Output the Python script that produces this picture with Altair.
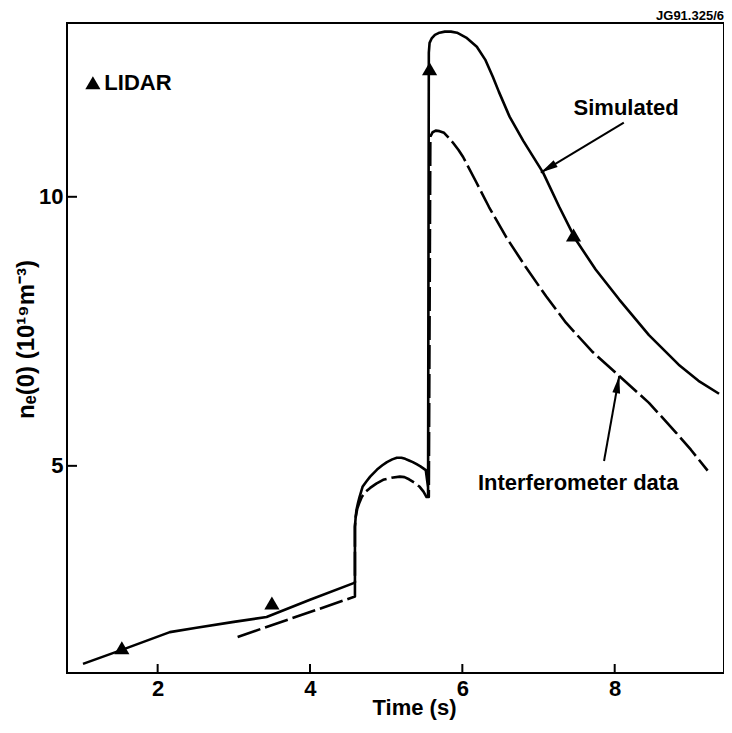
import math
import altair as alt
import pandas as pd

# ---- data ----
sim_t = [1.02, 1.53, 2.16, 2.51, 3.00, 3.43, 4.00, 4.59, 4.59, 4.60, 4.61, 4.63, 4.65,
         4.69, 4.74, 4.79, 4.88, 4.95, 5.01, 5.08, 5.14, 5.20, 5.25, 5.30, 5.35, 5.40,
         5.45, 5.52, 5.55, 5.55, 5.56, 5.57, 5.60, 5.64, 5.70, 5.77, 5.85, 5.93, 6.05,
         6.19, 6.30, 6.40, 6.48, 6.62, 6.80, 7.06, 7.27, 7.49, 7.75, 8.06, 8.45, 8.84,
         9.10, 9.37]
sim_n = [1.32, 1.58, 1.91, 1.99, 2.10, 2.19, 2.51, 2.83, 3.87, 4.05, 4.18, 4.31, 4.42,
         4.61, 4.71, 4.80, 4.93, 5.01, 5.07, 5.12, 5.15, 5.15, 5.13, 5.10, 5.07, 5.03,
         4.99, 4.92, 4.60, 4.45, 12.68, 12.86, 12.95, 13.01, 13.05, 13.07, 13.07, 13.05, 12.96,
         12.79, 12.55, 12.23, 11.95, 11.49, 11.04, 10.45, 9.82, 9.20, 8.65, 8.09, 7.43, 6.88,
         6.58, 6.34]

int_t = [3.05, 4.59, 4.59, 4.60, 4.62, 4.65, 4.68, 4.73, 4.79, 4.87, 4.96, 5.07, 5.18,
         5.24, 5.30, 5.37, 5.44, 5.49, 5.53, 5.56, 5.58, 5.61, 5.65, 5.70, 5.76, 5.82,
         5.88, 5.95, 6.01, 6.18, 6.35, 6.58, 6.83, 7.10, 7.36, 7.70, 8.06, 8.45, 8.81,
         9.00, 9.22]
int_n = [1.82, 2.57, 3.87, 4.05, 4.20, 4.32, 4.42, 4.52, 4.59, 4.67, 4.74, 4.78, 4.80,
         4.79, 4.75, 4.69, 4.61, 4.52, 4.42, 4.42, 11.12, 11.20, 11.23, 11.22, 11.19, 11.10,
         11.00, 10.87, 10.74, 10.28, 9.81, 9.24, 8.70, 8.15, 7.66, 7.13, 6.67, 6.17, 5.61,
         5.30, 4.91]

lidar_t = [1.53, 3.50, 5.57, 7.46]
lidar_n = [1.62, 2.45, 12.38, 9.29]

x_ticks = [2, 4, 6, 8]
y_ticks = [5, 10]

ann_text = ["Simulated", "Interferometer data"]
ann_t = [8.15, 7.52]
ann_n = [11.65, 4.68]

arrow_from_t = [8.12, 7.86]
arrow_from_n = [11.38, 5.09]
arrow_to_t = [7.03, 8.06]
arrow_to_n = [10.45, 6.67]

legend_t = [1.15]
legend_n = [12.12]
legend_label = ["LIDAR"]
legend_label_t = [1.30]

x_title = "Time (s)"
y_title = "nₑ(0) (10¹⁹m⁻³)"
corner_label = "JG91.325/6"

# ---- layout ----
W, H = 657, 650
XDOM = [0.81, 9.435]
YDOM = [1.15, 13.23]
FONT = "Liberation Sans"

xs = alt.Scale(domain=XDOM, nice=False, zero=False)
ys = alt.Scale(domain=YDOM, nice=False, zero=False)

px_per_x = W / (XDOM[1] - XDOM[0])
px_per_y = H / (YDOM[1] - YDOM[0])

sim_df = pd.DataFrame({"t": sim_t, "n": sim_n, "i": range(len(sim_t))})
int_df = pd.DataFrame({"t": int_t, "n": int_n, "i": range(len(int_t))})
lid_df = pd.DataFrame({"t": lidar_t, "n": lidar_n})
ann_df = pd.DataFrame({"t": ann_t, "n": ann_n, "label": ann_text})

angles = []
for a, b, c, d in zip(arrow_from_t, arrow_from_n, arrow_to_t, arrow_to_n):
    dx = (c - a) * px_per_x
    dy = -(d - b) * px_per_y
    angles.append((math.degrees(math.atan2(dx, -dy)) + 360) % 360)
arr_df = pd.DataFrame({"t0": arrow_from_t, "n0": arrow_from_n,
                       "t1": arrow_to_t, "n1": arrow_to_n, "ang": angles})
leg_df = pd.DataFrame({"t": legend_t, "n": legend_n})
leg_lab_df = pd.DataFrame({"t": legend_label_t, "n": legend_n, "label": legend_label})
xt_df = pd.DataFrame({"v": x_ticks})
yt_df = pd.DataFrame({"v": y_ticks})

xaxis = alt.Axis(values=x_ticks, title=x_title, ticks=False, domain=False, grid=False,
                 labelPadding=5, labelFontSize=22, labelFontWeight="bold", labelFont=FONT,
                 labelColor="black", titleFontSize=22, titleFontWeight="bold", titleFont=FONT,
                 titleColor="black", titleX=347, titleY=34, titleBaseline="middle",
                 titleAlign="center")
yaxis = alt.Axis(values=y_ticks, title=y_title, ticks=False, domain=False, grid=False,
                 labelPadding=4, labelFontSize=22, labelFontWeight="bold", labelFont=FONT,
                 labelColor="black", titleFontSize=24, titleFontWeight="bold", titleFont=FONT,
                 titleColor="black", titleX=-41, titleY=316, titleAngle=270,
                 titleBaseline="middle", titleAlign="center")


def X(f):
    return alt.X(f, scale=xs, axis=xaxis)


def Y(f):
    return alt.Y(f, scale=ys, axis=yaxis)


sim = alt.Chart(sim_df).mark_line(color="black", strokeWidth=2.6, strokeJoin="round").encode(
    x=X("t:Q"), y=Y("n:Q"), order="i:Q",
)
intf = alt.Chart(int_df).mark_line(color="black", strokeWidth=2.6, strokeDash=[24, 5],
                                   strokeJoin="round").encode(
    x=X("t:Q"), y=Y("n:Q"), order="i:Q",
)
tri = alt.Chart(lid_df).mark_point(shape="triangle-up", filled=True, size=230,
                                   color="black", opacity=1).encode(
    x=X("t:Q"), y=Y("n:Q"),
)
leg_tri = alt.Chart(leg_df).mark_point(shape="triangle-up", filled=True, size=230,
                                       color="black", opacity=1).encode(
    x=X("t:Q"), y=Y("n:Q"),
)
leg_txt = alt.Chart(leg_lab_df).mark_text(align="left", baseline="middle", fontSize=22,
                                          fontWeight="bold", font=FONT, color="black").encode(
    x=X("t:Q"), y=Y("n:Q"), text="label:N",
)
ann = alt.Chart(ann_df).mark_text(align="center", baseline="middle", fontSize=22,
                                  fontWeight="bold", font=FONT, color="black").encode(
    x=X("t:Q"), y=Y("n:Q"), text="label:N",
)
arr_line = alt.Chart(arr_df).mark_rule(color="black", strokeWidth=2).encode(
    x=X("t0:Q"), y=Y("n0:Q"), x2="t1:Q", y2="n1:Q",
)
arr_head = alt.Chart(arr_df).mark_point(shape="M0,0L0.45,2L-0.45,2Z", filled=True, size=300,
                                        color="black", opacity=1).encode(
    x=X("t1:Q"), y=Y("n1:Q"),
    angle=alt.Angle("ang:Q", scale=None),
)
xticks = alt.Chart(xt_df).mark_rule(color="black", strokeWidth=2).encode(
    x=X("v:Q"),
    y=alt.value(H),
    y2=alt.value(H - 9),
)
yticks = alt.Chart(yt_df).mark_rule(color="black", strokeWidth=2).encode(
    y=Y("v:Q"),
    x=alt.value(0),
    x2=alt.value(10),
)
corner = alt.Chart(pd.DataFrame({"label": [corner_label]})).mark_text(
    align="right", baseline="alphabetic", fontSize=13, fontWeight="bold", font=FONT,
    color="black").encode(
    x=alt.value(W),
    y=alt.value(-3),
    text="label:N",
)

chart = alt.layer(sim, intf, tri, leg_tri, leg_txt, ann, arr_line, arr_head,
                  xticks, yticks, corner).properties(
    width=W, height=H,
    padding={"left": 59, "top": 15, "right": 0, "bottom": 52},
    autosize=alt.AutoSizeParams(type="none"),
    background="white",
).configure_view(stroke="black", strokeWidth=2)

chart.save("out.html", embed_options={"renderer": "svg", "actions": False})
